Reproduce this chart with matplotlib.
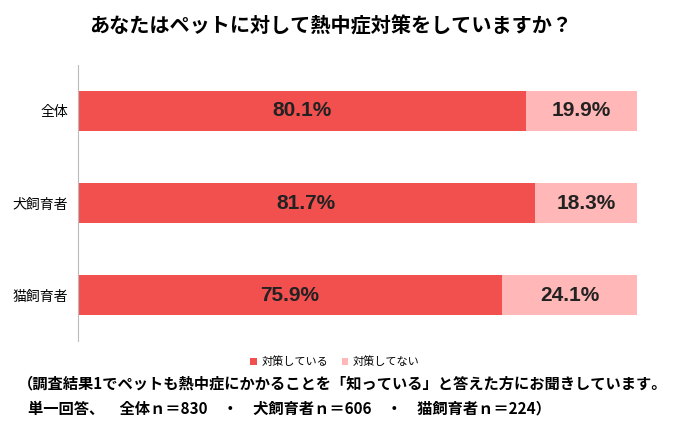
import matplotlib
matplotlib.use("Agg")
import matplotlib.pyplot as plt

plt.rcParams['font.family'] = ['Noto Sans CJK JP', 'DejaVu Sans']

categories = ['全体', '犬飼育者', '猫飼育者']
yes_vals = [80.1, 81.7, 75.9]
no_vals = [19.9, 18.3, 24.1]
series_names = ['対策している', '対策してない']
colors = ['#F2504F', '#FFB7B7']

fig = plt.figure(figsize=(7, 4.32), dpi=100)
ax = fig.add_axes([0.111, 0.21, 0.799, 0.64])

ys = range(len(categories))
ax.barh(ys, yes_vals, height=0.43, color=colors[0], label=series_names[0])
ax.barh(ys, no_vals, left=yes_vals, height=0.43, color=colors[1], label=series_names[1])
for y, a, b in zip(ys, yes_vals, no_vals):
    ax.text(a / 2, y, f'{a}%', ha='center', va='center', fontsize=15, fontweight='bold', color='#222222', family=['Liberation Sans', 'DejaVu Sans'])
    ax.text(a + b / 2, y, f'{b}%', ha='center', va='center', fontsize=15, fontweight='bold', color='#222222', family=['Liberation Sans', 'DejaVu Sans'])

ax.set_xlim(0, 100)
ax.set_ylim(2.5, -0.5)
ax.set_yticks(list(ys))
ax.set_yticklabels(categories, fontsize=10)
ax.set_xticks([])
ax.tick_params(left=False)
for s in ['top', 'right', 'bottom']:
    ax.spines[s].set_visible(False)
ax.spines['left'].set_color('#bbbbbb')

fig.text(0.473, 0.94, 'あなたはペットに対して熱中症対策をしていますか？', ha='center', va='center', fontsize=14.5, fontweight='bold')
ax.legend(loc='center', bbox_to_anchor=(0.46, -0.075), ncol=2, frameon=False, fontsize=8,
          handlelength=0.6, handleheight=0.6, columnspacing=1.2, handletextpad=0.4)
fig.text(0.025, 0.113, '（調査結果1でペットも熱中症にかかることを「知っている」と答えた方にお聞きしています。',
         ha='left', va='center', fontsize=11, fontweight='bold')
fig.text(0.04, 0.055, '単一回答、　全体ｎ＝830　・　犬飼育者ｎ＝606　・　猫飼育者ｎ＝224）',
         ha='left', va='center', fontsize=11, fontweight='bold')

fig.savefig('out.png', dpi=100)
